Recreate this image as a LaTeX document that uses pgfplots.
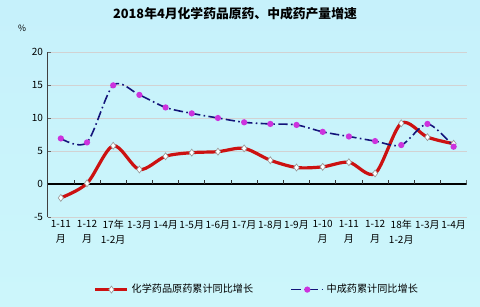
\documentclass[border=0pt]{standalone}
\usepackage{pgfplots}
\pgfplotsset{compat=1.18}
\usepackage{fontspec}
\setmainfont{Noto Sans CJK SC}
\definecolor{bgtop}{HTML}{C6F1FB}
\definecolor{bgmid}{HTML}{F6FDFF}
\definecolor{bgbot}{HTML}{CCF6FB}
\definecolor{myred}{HTML}{CC1111}
\definecolor{mynavy}{HTML}{14147A}
\definecolor{mymag}{HTML}{CC33DD}
\begin{document}
\begin{tikzpicture}[x=1pt,y=1pt]
\shade[top color=bgtop, middle color=bgmid, bottom color=bgbot] (0,0) rectangle (360,230.25);
\node[font=\bfseries\fontsize{9.6}{11}\selectfont] at (176.25,219.75) {2018年4月化学药品原药、中成药产量增速};
\node[font=\fontsize{6.5}{8}\selectfont] at (16.5,209.25) {\%};
\begin{axis}[
  at={(35.8pt,67.5pt)}, anchor=south west, scale only axis,
  width=314.25pt, height=123.75pt,
  xmin=-0.5, xmax=15.5, ymin=-5, ymax=20,
  axis y line*=left, axis x line*=bottom,
  x axis line style={draw=none},
  xtick={0,...,15},
  xtick style={draw=none},
  xticklabels={{1-11\\月},{1-12\\月},{17年\\1-2月},{1-3月},{1-4月},{1-5月},{1-6月},{1-7月},{1-8月},{1-9月},{1-10\\月},{1-11\\月},{1-12\\月},{18年\\1-2月},{1-3月},{1-4月}},
  xticklabel style={align=center, font=\fontsize{7.5}{11}\selectfont, anchor=north, yshift=1pt},
  ytick={-5,0,5,10,15,20},
  yticklabel style={font=\fontsize{7.5}{9}\selectfont},
  /pgf/number format/assume math mode=true,
  y axis line style={draw=black!75, line width=0.6pt},
  ytick style={draw=black!60},
  tick align=inside, major tick length=2.5pt,
  ymajorgrids, grid style={draw=gray!35, line width=0.6pt},
  legend columns=2,
  legend style={at={(0.5,-0.44)}, anchor=center, draw=none, fill=none,
    font=\fontsize{7.6}{9}\selectfont,
    /tikz/every even column/.append style={column sep=26pt}},
  legend image code/.code={\draw[mark repeat=2,mark phase=2] plot coordinates {(0cm,0cm) (0.42cm,0cm) (0.84cm,0cm)};},
]
\draw[black, line width=0.8pt] (axis cs:-0.5,0) -- (axis cs:15.5,0);
\pgfplotsinvokeforeach{-0.5,0.5,...,15.5}{\draw[black!80, line width=0.6pt] (axis cs:#1,0) -- ++(0pt,2.8pt);}
\addplot[color=myred, line width=2.4pt, smooth, tension=0.5,
  mark=diamond*, mark size=2.6pt, mark options={fill=white, draw=gray!80, line width=0.5pt}]
  coordinates {(0,-2.1) (1,0.1) (2,5.8) (3,2.2) (4,4.2) (5,4.75) (6,4.9) (7,5.4) (8,3.6) (9,2.5) (10,2.6) (11,3.3) (12,1.6) (13,9.2) (14,7.1) (15,6.1)};
\addplot[color=mynavy, line width=1.2pt, smooth, tension=0.5,
  dash pattern=on 7pt off 2.5pt on 1.2pt off 2.5pt,
  mark=*, mark size=1.7pt, mark options={solid, fill=mymag, draw=mymag}]
  coordinates {(0,6.9) (1,6.3) (2,14.95) (3,13.5) (4,11.6) (5,10.7) (6,10.0) (7,9.35) (8,9.1) (9,8.95) (10,7.9) (11,7.2) (12,6.5) (13,5.9) (14,9.1) (15,5.65)};
\legend{化学药品原药累计同比增长, 中成药累计同比增长}
\end{axis}
\end{tikzpicture}
\end{document}
